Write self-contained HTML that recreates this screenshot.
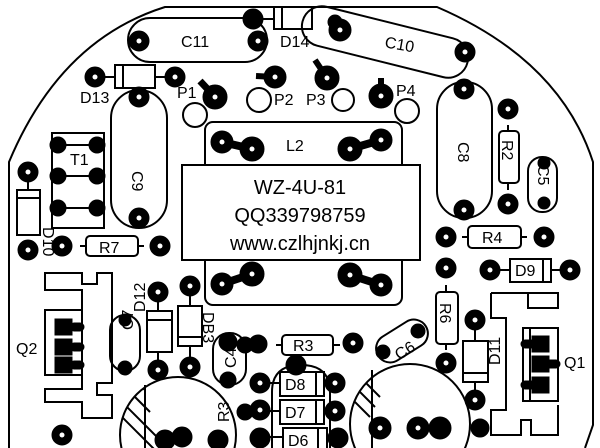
<!DOCTYPE html>
<html><head><meta charset="utf-8"><style>
html,body{margin:0;padding:0;background:#fff;width:600px;height:448px;overflow:hidden}
svg{display:block}
text{font-family:"Liberation Sans",sans-serif;fill:#000}
</style></head><body>
<svg width="600" height="448" viewBox="0 0 600 448" xmlns="http://www.w3.org/2000/svg">
<defs>
<clipPath id="lc"><circle cx="178" cy="435" r="58"/></clipPath>
<clipPath id="rc"><circle cx="410" cy="424" r="60"/></clipPath>
</defs>
<rect width="600" height="448" fill="#fff"/>
<g fill="none" stroke="#000" stroke-width="2">
<path d="M9,448 L9,162 Q60,40 165,7 L437,7 Q560,60 593,162 L593,425 L585,448"/>
<rect x="128" y="18" width="139" height="44" rx="22"/>
<rect x="274" y="7" width="38" height="22"/><line x1="282" y1="7" x2="282" y2="29"/>
<line x1="258" y1="19" x2="274" y2="19"/>
<rect x="300" y="22" width="170" height="40" rx="20" transform="rotate(14 385 42)"/>
<rect x="115" y="65" width="40" height="23"/><line x1="123" y1="65" x2="123" y2="88"/>
<line x1="95" y1="77" x2="115" y2="77"/><line x1="155" y1="77" x2="175" y2="77"/>
<circle cx="195" cy="115" r="12"/><circle cx="259" cy="100" r="12"/>
<circle cx="343" cy="100" r="11"/><circle cx="407" cy="111" r="12"/>
<rect x="111" y="90" width="56" height="138" rx="28"/>
<rect x="52" y="133" width="52" height="95"/>
<line x1="58" y1="145" x2="97" y2="145"/><line x1="58" y1="176" x2="97" y2="176"/><line x1="58" y1="208" x2="97" y2="208"/>
<rect x="205" y="122" width="197" height="183" rx="8"/>
<rect x="182" y="165" width="238" height="95" fill="#fff"/>
<rect x="437" y="82" width="55" height="136" rx="27"/>
<rect x="499" y="131" width="20" height="52" rx="4"/><line x1="508" y1="125" x2="508" y2="131"/><line x1="508" y1="183" x2="508" y2="190"/>
<rect x="528" y="157" width="29" height="55" rx="14"/>
<rect x="17" y="190" width="23" height="45"/><line x1="17" y1="198" x2="40" y2="198"/><line x1="28" y1="172" x2="28" y2="190"/>
<rect x="86" y="236" width="52" height="20" rx="4"/><line x1="80" y1="246" x2="86" y2="246"/><line x1="138" y1="246" x2="144" y2="246"/>
<path d="M45,273 L82,273 L82,284 L97,284 L97,273 L112,273 L112,383 L97,383 L97,395 L112,395 L112,418 L82,418 L82,402 L45,402 L45,389 L82,389 L82,375 L45,375 L45,310 L82,310 L82,290 L45,290 Z"/>
<rect x="45" y="310" width="37" height="65"/>
<rect x="110" y="315" width="30" height="56" rx="15"/>
<rect x="147" y="311" width="25" height="41"/><line x1="147" y1="320" x2="172" y2="320"/>
<line x1="158" y1="292" x2="158" y2="311"/><line x1="158" y1="352" x2="158" y2="370"/>
<rect x="178" y="306" width="24" height="40"/><line x1="178" y1="337" x2="202" y2="337"/>
<line x1="190" y1="286" x2="190" y2="306"/><line x1="190" y1="346" x2="190" y2="367"/>
<rect x="213" y="333" width="33" height="52" rx="16"/>
<rect x="282" y="335" width="51" height="20" rx="4"/><line x1="276" y1="345" x2="282" y2="345"/><line x1="333" y1="345" x2="340" y2="345"/>
<rect x="374" y="327" width="56" height="28" rx="14" transform="rotate(-32 402 341)"/>
<rect x="436" y="292" width="22" height="52" rx="4"/><line x1="446" y1="285" x2="446" y2="292"/><line x1="446" y1="344" x2="446" y2="350"/>
<rect x="468" y="226" width="53" height="22" rx="4"/><line x1="462" y1="237" x2="468" y2="237"/><line x1="521" y1="237" x2="527" y2="237"/>
<rect x="510" y="259" width="41" height="23"/><line x1="543" y1="259" x2="543" y2="282"/>
<line x1="490" y1="270" x2="510" y2="270"/><line x1="551" y1="270" x2="570" y2="270"/>
<rect x="463" y="341" width="25" height="41"/><line x1="463" y1="373" x2="488" y2="373"/>
<line x1="475" y1="320" x2="475" y2="341"/><line x1="475" y1="382" x2="475" y2="400"/>
<path d="M491,293 L558,293 L558,308 L528,308 L528,293 M491,293 L491,318 L506,318 L506,410 L491,410 L491,435 L521,435 L521,420 L531,420 L531,435 L558,435 L558,405"/>
<rect x="523" y="328" width="35" height="73"/><line x1="530" y1="328" x2="530" y2="401"/>
<circle cx="178" cy="435" r="58"/>
<circle cx="410" cy="424" r="60"/>
<path d="M272,448 L272,392 Q272,365 301,365 Q330,365 330,392 L330,448"/>
<rect x="280" y="372" width="44" height="24"/><line x1="316" y1="372" x2="316" y2="396"/>
<rect x="280" y="400" width="44" height="24"/><line x1="316" y1="400" x2="316" y2="424"/>
<rect x="283" y="428" width="44" height="22"/><line x1="318" y1="428" x2="318" y2="448"/>
<line x1="262" y1="383" x2="280" y2="383"/><line x1="262" y1="411" x2="280" y2="411"/><line x1="262" y1="437" x2="283" y2="437"/>
<line x1="324" y1="383" x2="335" y2="383"/><line x1="324" y1="411" x2="335" y2="411"/><line x1="327" y1="437" x2="338" y2="437"/>
</g>
<g stroke="#000" stroke-width="2" clip-path="url(#lc)">
<line x1="120" y1="400" x2="160" y2="440"/><line x1="120" y1="415" x2="155" y2="450"/><line x1="128" y1="390" x2="150" y2="412"/>
<line x1="135" y1="380" x2="145" y2="390"/>
</g>
<g stroke="#000" stroke-width="2" clip-path="url(#rc)">
<line x1="348" y1="380" x2="375" y2="407"/><line x1="348" y1="395" x2="370" y2="417"/><line x1="355" y1="372" x2="380" y2="397"/>
</g>
<line x1="145" y1="448" x2="145" y2="385" stroke="#000" stroke-width="2"/>
<line x1="372" y1="448" x2="372" y2="370" stroke="#000" stroke-width="2"/>
<g fill="#000" stroke="#000" stroke-width="3">
<circle cx="139" cy="41" r="9"/><circle cx="258" cy="41" r="9"/><circle cx="253" cy="19" r="9"/>
<circle cx="340" cy="30" r="10"/><circle cx="335" cy="22" r="6"/><circle cx="465" cy="52" r="9"/>
<circle cx="95" cy="77" r="9"/><circle cx="175" cy="77" r="9"/>
<circle cx="215" cy="97" r="11"/><line x1="215" y1="97" x2="200" y2="81" stroke-width="7"/>
<circle cx="275" cy="77" r="10"/><line x1="275" y1="77" x2="256" y2="76" stroke-width="6"/>
<circle cx="327" cy="78" r="11"/><line x1="327" y1="78" x2="315" y2="60" stroke-width="6"/>
<circle cx="381" cy="96" r="11"/><line x1="381" y1="96" x2="381" y2="78" stroke-width="6"/>
<circle cx="139" cy="97" r="9"/><circle cx="139" cy="218" r="9"/>
<circle cx="58" cy="145" r="7"/><circle cx="97" cy="145" r="7"/><circle cx="58" cy="176" r="7"/><circle cx="97" cy="176" r="7"/><circle cx="58" cy="208" r="7"/><circle cx="97" cy="208" r="7"/>
<circle cx="222" cy="142" r="10"/><circle cx="252" cy="149" r="11"/><line x1="222" y1="142" x2="252" y2="149" stroke-width="8"/>
<circle cx="350" cy="149" r="11"/><circle cx="381" cy="140" r="10"/><line x1="350" y1="149" x2="381" y2="140" stroke-width="8"/>
<circle cx="222" cy="284" r="10"/><circle cx="252" cy="274" r="11"/><line x1="222" y1="284" x2="252" y2="274" stroke-width="8"/>
<circle cx="350" cy="275" r="11"/><circle cx="381" cy="285" r="10"/><line x1="350" y1="275" x2="381" y2="285" stroke-width="8"/>
<circle cx="464" cy="89" r="9"/><circle cx="464" cy="210" r="9"/>
<circle cx="508" cy="109" r="9"/><circle cx="508" cy="204" r="9"/>
<circle cx="544" cy="163" r="5"/><circle cx="544" cy="203" r="5"/>
<circle cx="28" cy="172" r="9"/><circle cx="28" cy="250" r="9"/><circle cx="62" cy="246" r="9"/><circle cx="160" cy="246" r="9"/>
<rect x="56" y="320" width="15" height="14"/><rect x="56" y="340" width="15" height="14"/><rect x="56" y="358" width="15" height="14"/>
<rect x="71" y="324" width="12" height="6" rx="3"/><rect x="71" y="344" width="12" height="6" rx="3"/><rect x="71" y="362" width="12" height="6" rx="3"/>
<circle cx="125" cy="320" r="5"/><circle cx="125" cy="368" r="6"/>
<circle cx="158" cy="292" r="9"/><circle cx="158" cy="370" r="9"/><circle cx="190" cy="286" r="9"/><circle cx="190" cy="367" r="9"/>
<circle cx="62" cy="435" r="9"/>
<circle cx="228" cy="342" r="8"/><circle cx="245" cy="345" r="7"/><circle cx="258" cy="344" r="8"/>
<circle cx="228" cy="380" r="7"/><circle cx="260" cy="383" r="9"/>
<circle cx="245" cy="412" r="7"/><circle cx="260" cy="410" r="9"/><circle cx="260" cy="438" r="9"/>
<circle cx="353" cy="343" r="9"/><circle cx="296" cy="365" r="9"/>
<circle cx="335" cy="383" r="9"/><circle cx="335" cy="411" r="9"/><circle cx="338" cy="438" r="9"/>
<circle cx="383" cy="352" r="6"/><circle cx="418" cy="331" r="6"/>
<circle cx="446" cy="268" r="9"/><circle cx="446" cy="363" r="9"/><circle cx="446" cy="237" r="9"/><circle cx="544" cy="237" r="9"/>
<circle cx="490" cy="270" r="9"/><circle cx="570" cy="270" r="9"/>
<circle cx="475" cy="320" r="9"/><circle cx="475" cy="400" r="9"/>
<rect x="533" y="337" width="15" height="14"/><rect x="533" y="357" width="15" height="14"/><rect x="533" y="378" width="15" height="14"/>
<rect x="522" y="341" width="12" height="6" rx="3"/><rect x="545" y="361" width="14" height="6" rx="3"/><rect x="522" y="382" width="12" height="6" rx="3"/>
<circle cx="480" cy="428" r="8"/>
<circle cx="165" cy="440" r="9"/><circle cx="182" cy="437" r="9"/><circle cx="218" cy="440" r="9"/>
<circle cx="380" cy="428" r="10"/><circle cx="418" cy="428" r="10"/><circle cx="440" cy="428" r="10"/>
</g>
<g fill="#fff">
<circle cx="139" cy="41" r="2.5"/><circle cx="258" cy="41" r="2.5"/><circle cx="340" cy="30" r="2.5"/><circle cx="465" cy="52" r="2.5"/>
<circle cx="95" cy="77" r="2.5"/><circle cx="175" cy="77" r="2.5"/><circle cx="215" cy="97" r="2.5"/><circle cx="275" cy="77" r="2.5"/><circle cx="327" cy="78" r="2.5"/><circle cx="381" cy="96" r="2.5"/>
<circle cx="139" cy="97" r="2.5"/><circle cx="139" cy="218" r="2.5"/><circle cx="464" cy="89" r="2.5"/><circle cx="464" cy="210" r="2.5"/><circle cx="508" cy="109" r="2.5"/><circle cx="508" cy="204" r="2.5"/>
<circle cx="222" cy="142" r="2.5"/><circle cx="252" cy="149" r="2.5"/><circle cx="350" cy="149" r="2.5"/><circle cx="381" cy="140" r="2.5"/>
<circle cx="222" cy="284" r="2.5"/><circle cx="252" cy="274" r="2.5"/><circle cx="350" cy="275" r="2.5"/><circle cx="381" cy="285" r="2.5"/>
<circle cx="28" cy="172" r="2.5"/><circle cx="28" cy="250" r="2.5"/><circle cx="62" cy="246" r="2.5"/><circle cx="160" cy="246" r="2.5"/>
<circle cx="158" cy="292" r="2.5"/><circle cx="158" cy="370" r="2.5"/><circle cx="190" cy="286" r="2.5"/><circle cx="190" cy="367" r="2.5"/><circle cx="62" cy="435" r="2.5"/>
<circle cx="353" cy="343" r="2.5"/><circle cx="335" cy="383" r="2.5"/><circle cx="335" cy="411" r="2.5"/><circle cx="260" cy="383" r="2.5"/><circle cx="260" cy="410" r="2.5"/>
<circle cx="446" cy="268" r="2.5"/><circle cx="446" cy="363" r="2.5"/><circle cx="446" cy="237" r="2.5"/><circle cx="544" cy="237" r="2.5"/><circle cx="490" cy="270" r="2.5"/><circle cx="570" cy="270" r="2.5"/>
<circle cx="475" cy="320" r="2.5"/><circle cx="475" cy="400" r="2.5"/><circle cx="380" cy="428" r="2.5"/><circle cx="418" cy="428" r="2.5"/>
</g>
<g font-size="16">
<text x="181" y="47">C11</text>
<text x="280" y="47">D14</text>
<text x="385" y="50" transform="rotate(10 400 44)">C10</text>
<text x="80" y="103">D13</text>
<text x="177" y="98">P1</text>
<text x="274" y="105">P2</text>
<text x="306" y="105">P3</text>
<text x="396" y="96">P4</text>
<text x="70" y="165">T1</text>
<text x="286" y="151">L2</text>
<text x="0" y="0" transform="translate(132,171) rotate(90)">C9</text>
<text x="0" y="0" transform="translate(458,142) rotate(90)">C8</text>
<text x="0" y="0" transform="translate(502,140) rotate(90)">R2</text>
<text x="0" y="0" transform="translate(538,165) rotate(90)">C5</text>
<text x="0" y="0" transform="translate(43,227) rotate(90)">D10</text>
<text x="99" y="253">R7</text>
<text x="16" y="354">Q2</text>
<text x="0" y="0" transform="translate(133,330) rotate(-90)">C7</text>
<text x="0" y="0" transform="translate(145,312) rotate(-90)">D12</text>
<text x="0" y="0" transform="translate(203,312) rotate(90)">DB3</text>
<text x="0" y="0" transform="translate(236,368) rotate(-90)">C4</text>
<text x="0" y="0" transform="translate(229,422) rotate(-90)">R3</text>
<text x="293" y="351">R3</text>
<text x="390" y="355" transform="rotate(-32 404 342)">C6</text>
<text x="0" y="0" transform="translate(440,303) rotate(90)">R6</text>
<text x="482" y="243">R4</text>
<text x="515" y="276">D9</text>
<text x="0" y="0" transform="translate(500,365) rotate(-90)">D11</text>
<text x="564" y="368">Q1</text>
<text x="285" y="390">D8</text>
<text x="285" y="418">D7</text>
<text x="288" y="446">D6</text>
</g>
<g font-size="20" text-anchor="middle">
<text x="300" y="194">WZ-4U-81</text>
<text x="300" y="222">QQ339798759</text>
<text x="300" y="250">www.czlhjnkj.cn</text>
</g>
</svg>
</body></html>
